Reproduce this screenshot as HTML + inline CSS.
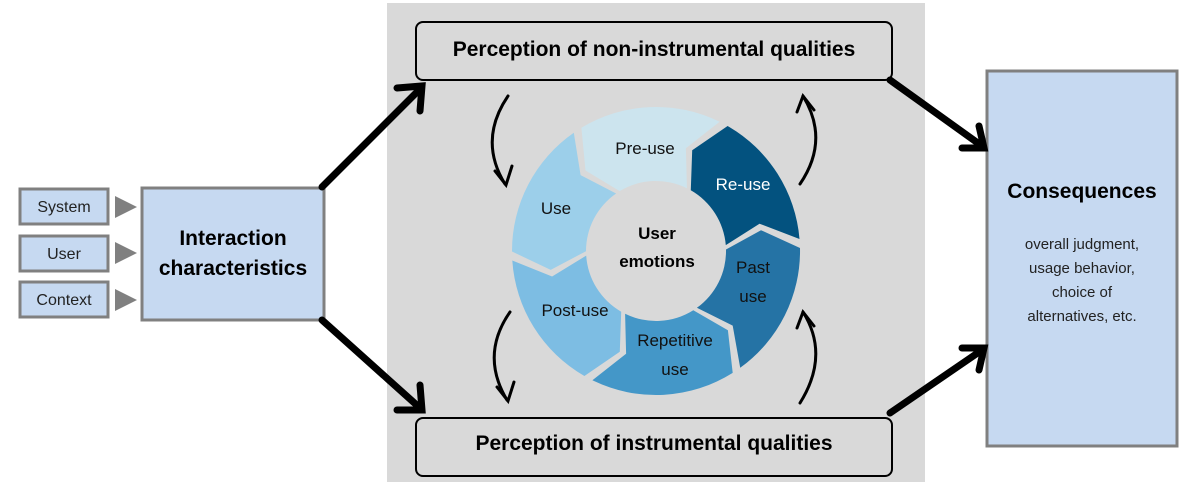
<!DOCTYPE html>
<html><head><meta charset="utf-8"><style>
body{margin:0;background:#fff;}
svg{display:block;font-family:"Liberation Sans","DejaVu Sans",sans-serif;}
</style></head><body>
<svg id="s" width="1185" height="487" viewBox="0 0 1185 487" xmlns="http://www.w3.org/2000/svg">
<rect x="387" y="3" width="538" height="479" fill="#d9d9d9"/>
<g id="ring"></g>
<circle cx="656" cy="251" r="66" fill="#d9d9d9"/>
<rect x="416" y="22" width="476" height="58" rx="7" fill="#d9d9d9" stroke="#000" stroke-width="2"/>
<text x="654" y="56" text-anchor="middle" font-size="21" font-weight="bold">Perception of non-instrumental qualities</text>
<rect x="416" y="418" width="476" height="58" rx="7" fill="#d9d9d9" stroke="#000" stroke-width="2"/>
<text x="654" y="450" text-anchor="middle" font-size="21" font-weight="bold">Perception of instrumental qualities</text>
<g fill="#c6d9f1" stroke="#808080" stroke-width="3">
<rect x="20" y="189" width="88" height="35"/>
<rect x="20" y="236" width="88" height="35"/>
<rect x="20" y="282" width="88" height="35"/>
<rect x="142" y="188" width="182" height="132"/>
<rect x="987" y="71" width="190" height="375"/>
</g>
<g fill="#808080">
<polygon points="115,196 137,207 115,218"/>
<polygon points="115,242 137,253 115,264"/>
<polygon points="115,289 137,300 115,311"/>
</g>
<g font-size="16" text-anchor="middle" fill="#222">
<text x="64" y="212">System</text>
<text x="64" y="259">User</text>
<text x="64" y="305">Context</text>
</g>
<text x="233" y="245" text-anchor="middle" font-size="21" font-weight="bold">Interaction</text>
<text x="233" y="275" text-anchor="middle" font-size="21" font-weight="bold">characteristics</text>
<text x="1082" y="198" text-anchor="middle" font-size="21" font-weight="bold">Consequences</text>
<g font-size="15" text-anchor="middle" fill="#222">
<text x="1082" y="249">overall judgment,</text>
<text x="1082" y="273">usage behavior,</text>
<text x="1082" y="297">choice of</text>
<text x="1082" y="321">alternatives, etc.</text>
</g>
<g stroke="#000" stroke-width="7" fill="none" stroke-linecap="round">
<line x1="322" y1="187" x2="420" y2="89"/>
<polyline points="397,88 422,86 420,111"/>
<line x1="322" y1="320" x2="420" y2="408"/>
<polyline points="420,385 422,410 397,410"/>
<line x1="890" y1="80" x2="982" y2="146"/>
<polyline points="962,148 984,148 979,126"/>
<line x1="890" y1="413" x2="982" y2="350"/>
<polyline points="979,370 984,348 962,348"/>
</g>
<g stroke="#000" stroke-width="3" fill="none" stroke-linecap="round">
<path d="M508,96 Q478,140 505,184"/><polyline points="495,171 506,185 512,166"/>
<path d="M800,184 Q830,140 803,96"/><polyline points="797,112 803,96 814,110"/>
<path d="M510,312 Q480,355 507,400"/><polyline points="497,387 508,401 514,382"/>
<path d="M800,403 Q830,355 803,312"/><polyline points="797,328 803,312 814,326"/>
</g>
<g font-size="17" text-anchor="middle" fill="#111">
<text x="645" y="154">Pre-use</text>
<text x="743" y="190" fill="#fff">Re-use</text>
<text x="556" y="214">Use</text>
<text x="753" y="273">Past</text>
<text x="753" y="302">use</text>
<text x="575" y="316">Post-use</text>
<text x="675" y="346">Repetitive</text>
<text x="675" y="375">use</text>
</g>
<text x="657" y="239" text-anchor="middle" font-size="17" font-weight="bold">User</text>
<text x="657" y="267" text-anchor="middle" font-size="17" font-weight="bold">emotions</text>
</svg>
<script>
(function(){
var cx=656,cy=251,R=144,r=70,rm=(R+r)/2,d=-10,g=1.8;
var segs=[[-33,28,"#cce4ee"],[28,87,"#03527f"],[87,146,"#2573a5"],[146,208,"#4497c8"],[208,268,"#7dbde3"],[268,327,"#9ccfea"]];
function p(a,rr){var t=(a-90)*Math.PI/180;return (cx+rr*Math.cos(t)).toFixed(1)+","+(cy+rr*Math.sin(t)).toFixed(1);}
var out="";
segs.forEach(function(s){
 var a0=s[0]+g,a1=s[1]-g;
 var dd="M"+p(a0,R)+" A"+R+","+R+" 0 0 1 "+p(a1,R)+" L"+p(a1+d,rm)+" L"+p(a1,r)+" A"+r+","+r+" 0 0 0 "+p(a0,r)+" L"+p(a0+d,rm)+" Z";
 out+='<path d="'+dd+'" fill="'+s[2]+'"/>';
});
document.getElementById("ring").innerHTML=out;
})();
</script>
</body></html>
